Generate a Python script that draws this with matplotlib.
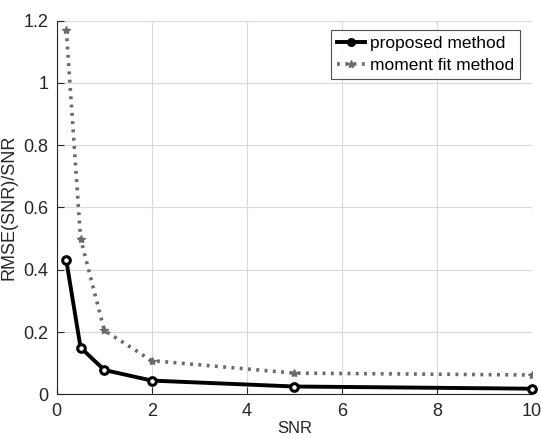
import matplotlib.pyplot as plt
from matplotlib.lines import Line2D

plt.rcParams['font.family'] = ['Liberation Sans', 'DejaVu Sans']

snr = [0.2, 0.5, 1, 2, 5, 10]
proposed = [0.43, 0.150, 0.078, 0.044, 0.025, 0.018]
moment_fit = [1.17, 0.50, 0.205, 0.108, 0.068, 0.062]

fig = plt.figure(figsize=(5.41, 4.38), dpi=100)
ax = fig.add_axes([0.105, 0.0998, 0.878, 0.853])

dot = (0, (0.8, 1.5))
ax.plot(snr, moment_fit, color='0.42', linestyle=dot, linewidth=2.6,
        marker='*', markersize=6, label='moment fit method', zorder=3)
ax.plot(snr, proposed, color='black', linestyle='-', linewidth=2.8,
        marker='o', markersize=5.5, markerfacecolor='white', markeredgewidth=2.2,
        label='proposed method', zorder=4, clip_on=False)

ax.set_xlim(0, 10)
ax.set_ylim(0, 1.2)
ax.set_xticks([0, 2, 4, 6, 8, 10])
ax.set_yticks([0, 0.2, 0.4, 0.6, 0.8, 1.0, 1.2])
ax.set_yticklabels(['0', '0.2', '0.4', '0.6', '0.8', '1', '1.2'])
ax.grid(True, color='0.85', linewidth=0.8)
ax.tick_params(labelsize=13, colors='0.15', direction='in', length=5, pad=6)
for s in ['top', 'right']:
    ax.spines[s].set_visible(False)
for s in ['left', 'bottom']:
    ax.spines[s].set_color('0.15')

# reference has the x label pressed against the bottom edge
ax.set_xlabel('SNR', fontsize=12, color='0.15', labelpad=1)
ax.set_ylabel('RMSE(SNR)/SNR', fontsize=13, color='0.15', labelpad=4)

handles = [
    Line2D([0], [0], color='black', lw=2.8, marker='o', markersize=5.5),
    Line2D([0], [0], color='0.42', lw=2.6, linestyle=dot,
           marker='*', markersize=6),
]
leg = ax.legend(handles, ['proposed method', 'moment fit method'],
                loc='upper right', bbox_to_anchor=(0.975, 0.975), fontsize=12.5,
                frameon=True, fancybox=False, edgecolor='0.15',
                handlelength=1.6, handletextpad=0.3, borderpad=0.35,
                labelspacing=0.4, borderaxespad=0)
leg.get_frame().set_linewidth(0.8)

fig.savefig('out.png', dpi=100)
